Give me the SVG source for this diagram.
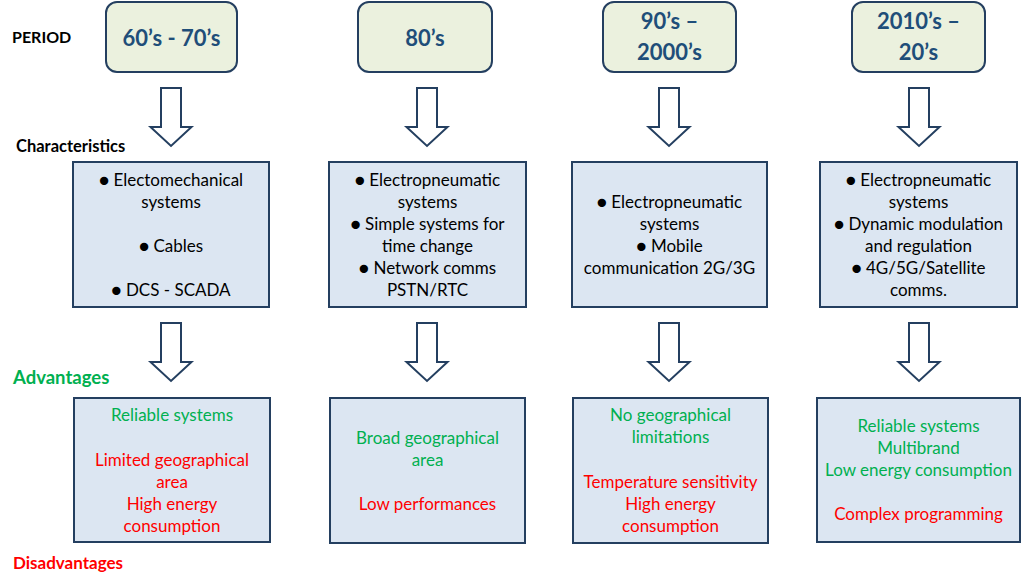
<svg xmlns="http://www.w3.org/2000/svg" width="1024" height="585" viewBox="0 0 1024 585">
<style>
text{font-family:Lato,"Open Sans","Liberation Sans",sans-serif;text-anchor:middle}
.lab{font-weight:bold;text-anchor:start;font-size:16.5px}
.per{fill:#ebf1de;stroke:#243f60;stroke-width:2}
.pt{font-weight:bold;font-size:22px;fill:#1f4e79;stroke:none}
.box{fill:#dce6f2;stroke:#243f60;stroke-width:2}
.bt{font-size:17px;fill:#000}
.g{font-size:17px;fill:#00b050}
.r{font-size:17px;fill:#ff0000}
.arr{fill:#fff;stroke:#243f60;stroke-width:2;stroke-linejoin:miter}
</style>
<defs>
<path id="ar" d="M-10,0 H10 V39 H20.5 L0,58 L-20.5,39 H-10 Z"/>
</defs>
<rect width="1024" height="585" fill="#fff"/>

<g id="labels">
<text class="lab" x="12" y="43" style="font-size:16px">PERIOD</text>
<text class="lab" x="16" y="152">Characteristics</text>
<text class="lab" x="13" y="384" style="fill:#00b050;font-size:18.5px">Advantages</text>
<text class="lab" x="13" y="569" style="fill:#ff0000;font-size:17px">Disadvantages</text>
</g>

<g id="connectors">
<use href="#ar" class="arr" x="171" y="88"/>
<use href="#ar" class="arr" x="427" y="88"/>
<use href="#ar" class="arr" x="669" y="88"/>
<use href="#ar" class="arr" x="919" y="88"/>
<use href="#ar" class="arr" x="171" y="323"/>
<use href="#ar" class="arr" x="427" y="323"/>
<use href="#ar" class="arr" x="669" y="323"/>
<use href="#ar" class="arr" x="919" y="323"/>
</g>

<g id="period1">
<rect class="per" x="106" y="2" width="131" height="70" rx="11"/>
<text class="pt" x="171.5" y="46">60’s - 70’s</text>
</g>
<g id="period2">
<rect class="per" x="358" y="2" width="134" height="70" rx="11"/>
<text class="pt" x="425" y="46">80’s</text>
</g>
<g id="period3">
<rect class="per" x="603" y="2" width="133" height="70" rx="11"/>
<text class="pt" x="669.5" y="29">90’s –</text>
<text class="pt" x="669.5" y="60">2000’s</text>
</g>
<g id="period4">
<rect class="per" x="852" y="2" width="133" height="70" rx="11"/>
<text class="pt" x="918.5" y="29">2010’s –</text>
<text class="pt" x="918.5" y="60">20’s</text>
</g>

<g id="char1">
<rect class="box" x="73" y="162" width="196" height="145"/>
<text class="bt" x="171" y="186">● Electomechanical</text>
<text class="bt" x="171" y="208">systems</text>
<text class="bt" x="171" y="252">● Cables</text>
<text class="bt" x="171" y="296">● DCS - SCADA</text>
</g>
<g id="char2">
<rect class="box" x="329" y="162" width="197" height="145"/>
<text class="bt" x="427.5" y="186">● Electropneumatic</text>
<text class="bt" x="427.5" y="208">systems</text>
<text class="bt" x="427.5" y="230">● Simple systems for</text>
<text class="bt" x="427.5" y="252">time change</text>
<text class="bt" x="427.5" y="274">● Network comms</text>
<text class="bt" x="427.5" y="296">PSTN/RTC</text>
</g>
<g id="char3">
<rect class="box" x="572" y="162" width="195" height="145"/>
<text class="bt" x="669.5" y="208">● Electropneumatic</text>
<text class="bt" x="669.5" y="230">systems</text>
<text class="bt" x="669.5" y="252">● Mobile</text>
<text class="bt" x="669.5" y="274">communication 2G/3G</text>
</g>
<g id="char4">
<rect class="box" x="820" y="162" width="197" height="145"/>
<text class="bt" x="918.5" y="186">● Electropneumatic</text>
<text class="bt" x="918.5" y="208">systems</text>
<text class="bt" x="918.5" y="230">● Dynamic modulation</text>
<text class="bt" x="918.5" y="252">and regulation</text>
<text class="bt" x="918.5" y="274">● 4G/5G/Satellite</text>
<text class="bt" x="918.5" y="296">comms.</text>
</g>

<g id="adv1">
<rect class="box" x="74" y="398" width="196" height="144"/>
<text class="g" x="172" y="421">Reliable systems</text>
<text class="r" x="172" y="466">Limited geographical</text>
<text class="r" x="172" y="488">area</text>
<text class="r" x="172" y="510">High energy</text>
<text class="r" x="172" y="532">consumption</text>
</g>
<g id="adv2">
<rect class="box" x="330" y="398" width="195" height="145"/>
<text class="g" x="427.5" y="444">Broad geographical</text>
<text class="g" x="427.5" y="466">area</text>
<text class="r" x="427.5" y="510">Low performances</text>
</g>
<g id="adv3">
<rect class="box" x="573" y="398" width="195" height="145"/>
<text class="g" x="670.5" y="421">No geographical</text>
<text class="g" x="670.5" y="443">limitations</text>
<text class="r" x="670.5" y="488">Temperature sensitivity</text>
<text class="r" x="670.5" y="510">High energy</text>
<text class="r" x="670.5" y="532">consumption</text>
</g>
<g id="adv4">
<rect class="box" x="817" y="398" width="203" height="144"/>
<text class="g" x="918.5" y="432">Reliable systems</text>
<text class="g" x="918.5" y="454">Multibrand</text>
<text class="g" x="918.5" y="476">Low energy consumption</text>
<text class="r" x="918.5" y="520">Complex programming</text>
</g>
</svg>
